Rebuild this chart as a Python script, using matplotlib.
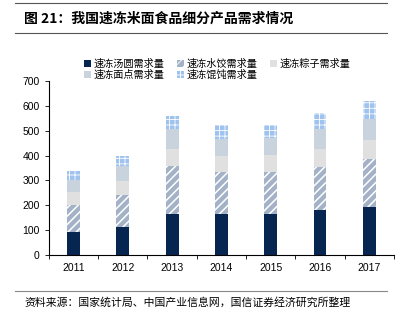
import numpy as np
import matplotlib.pyplot as plt
from matplotlib.lines import Line2D

plt.rcParams['font.family'] = ['Noto Sans CJK SC', 'DejaVu Sans']

years = ['2011', '2012', '2013', '2014', '2015', '2016', '2017']
tangyuan = [92, 114, 164, 166, 166, 179, 195]
shuijiao = [110, 128, 193, 166, 166, 176, 191]
zongzi = [50, 57, 71, 68, 69, 73, 76]
miandian = [51, 58, 79, 68, 70, 79, 87]
huntun = [36, 43, 54, 53, 53, 64, 70]

names = ['速冻汤圆需求量', '速冻水饺需求量', '速冻粽子需求量', '速冻面点需求量', '速冻馄饨需求量']
series = [tangyuan, shuijiao, zongzi, miandian, huntun]
colors = ['#062550', '#a3b2c6', '#e0e0e0', '#c9d3dd', '#9fc2ee']
hatches = [None, '////', None, None, '+++']
hatch_lw = [1.0, 1.1, 1.0, 1.0, 0.6]

fig = plt.figure(figsize=(4.04, 3.24), dpi=100)
ax = fig.add_axes([0.121, 0.213, 0.854, 0.537])

x = np.arange(len(years))
bottom = np.zeros(len(years))
bars = []
for vals, c, h, hl, n in zip(series, colors, hatches, hatch_lw, names):
    plt.rcParams['hatch.linewidth'] = hl
    b = ax.bar(x, vals, 0.26, bottom=bottom, color=c, hatch=h,
               edgecolor='white' if h else c, linewidth=0, label=n)
    bars.append(b)
    bottom += np.array(vals)

ax.set_xlim(-0.5, len(years) - 0.5)
ax.set_ylim(0, 700)
ax.set_yticks(range(0, 701, 100))
ax.set_xticks(x)
ax.set_xticklabels(years, fontfamily='Liberation Sans', fontsize=7.5)
ax.set_xticks(np.arange(-0.5, len(years), 1), minor=True)
ax.tick_params(axis='x', which='major', length=0, pad=6)
ax.tick_params(axis='x', which='minor', length=3, direction='out', width=0.6)
ax.tick_params(axis='y', length=3, width=0.6, labelsize=7.5)
for lab in ax.get_yticklabels():
    lab.set_fontfamily('Liberation Sans')
for s in ['top', 'right']:
    ax.spines[s].set_visible(False)
for s in ['left', 'bottom']:
    ax.spines[s].set_linewidth(0.8)

order = [0, 3, 1, 4, 2]
fig.legend([bars[i] for i in order], [names[i] for i in order], ncol=3,
           loc='upper left', bbox_to_anchor=(0.195, 0.835), frameon=False,
           fontsize=7.3, handlelength=0.7, handleheight=0.7, handletextpad=0.25,
           columnspacing=1.25, labelspacing=0.1, borderpad=0)

fig.text(0.06, 0.943, '图 21：我国速冻米面食品细分产品需求情况', fontsize=10,
         fontweight='bold', va='center')
fig.add_artist(Line2D([0.037, 0.958], [0.99, 0.99], color='#555555', lw=0.8))
fig.add_artist(Line2D([0.037, 0.958], [0.898, 0.898], color='#555555', lw=0.8))
fig.add_artist(Line2D([0.037, 0.958], [0.101, 0.101], color='#888888', lw=0.8))
fig.text(0.06, 0.068, '资料来源：国家统计局、中国产业信息网，国信证券经济研究所整理',
         fontsize=7.8, va='center')

fig.savefig('out.png', dpi=100)
